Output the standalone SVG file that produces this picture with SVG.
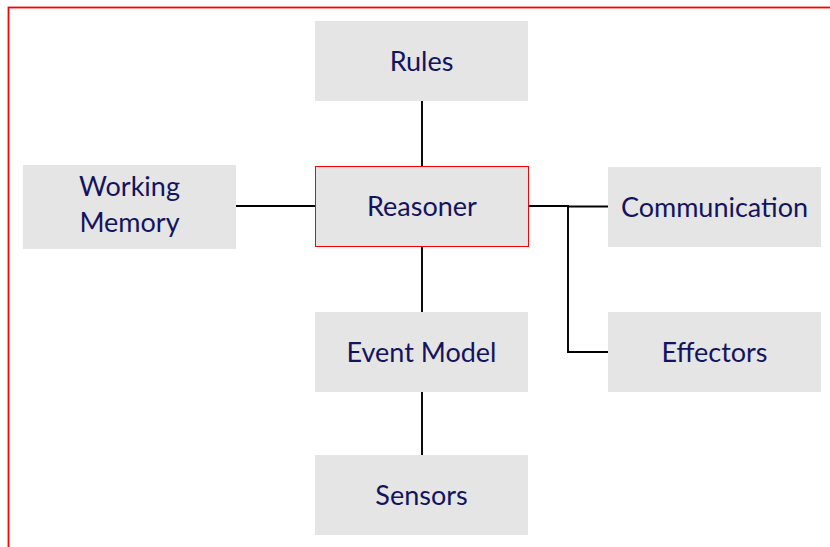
<svg xmlns="http://www.w3.org/2000/svg" width="830" height="547" viewBox="0 0 830 547">
<style>
.box{fill:#e5e5e5;}
.t{font-family:Lato,"Liberation Sans",sans-serif;font-size:27px;fill:#14145e;text-anchor:middle;}
.c{stroke:#000;stroke-width:1.9;fill:none;}
</style>
<rect x="8.5" y="7.5" width="830" height="560" fill="none" stroke="#ff0000" stroke-width="1.8"/>
<g id="connectors">
<line class="c" x1="422" y1="101" x2="422" y2="166"/>
<line class="c" x1="236" y1="206" x2="315" y2="206"/>
<polyline class="c" points="528,206 568,206 568,352 608,352"/>
<line class="c" x1="568" y1="206.5" x2="608" y2="206.5"/>
<line class="c" x1="422" y1="246" x2="422" y2="312"/>
<line class="c" x1="422" y1="392" x2="422" y2="455"/>
</g>
<g id="rules"><rect class="box" x="315" y="21" width="213" height="80"/><text class="t" x="421.5" y="71">Rules</text></g>
<g id="reasoner"><rect class="box" x="315.5" y="166.5" width="213" height="80" stroke="#ff0000" stroke-width="1"/><text class="t" x="422" y="216">Reasoner</text></g>
<g id="working-memory"><rect class="box" x="23" y="165" width="213" height="84"/><text class="t" x="129.5" y="196">Working</text><text class="t" x="129.5" y="232">Memory</text></g>
<g id="communication"><rect class="box" x="608" y="167" width="213" height="80"/><text class="t" x="714.5" y="217">Communication</text></g>
<g id="effectors"><rect class="box" x="608" y="312" width="213" height="80"/><text class="t" x="714.5" y="362">Effectors</text></g>
<g id="event-model"><rect class="box" x="315" y="312" width="213" height="80"/><text class="t" x="421.5" y="362">Event Model</text></g>
<g id="sensors"><rect class="box" x="315" y="455" width="213" height="80"/><text class="t" x="421.5" y="505">Sensors</text></g>
</svg>
